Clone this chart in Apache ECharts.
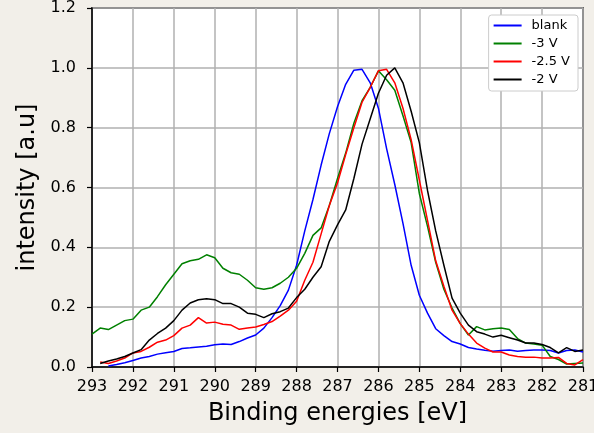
<!DOCTYPE html>
<html>
<head>
<meta charset="utf-8">
<script src="https://cdn.jsdelivr.net/npm/echarts@6/dist/echarts.min.js"></script>
<style>
html,body{margin:0;padding:0;background:#f2efe9;}
#c{width:594px;height:433px;}
</style>
</head>
<body>
<div id="c"></div>
<script>
// Binding energies (eV), 0.2 eV steps from 293 down to 281
const energies = [293.0,292.8,292.6,292.4,292.2,292.0,291.8,291.6,291.4,291.2,291.0,290.8,290.6,290.4,290.2,290.0,289.8,289.6,289.4,289.2,289.0,288.8,288.6,288.4,288.2,288.0,287.8,287.6,287.4,287.2,287.0,286.8,286.6,286.4,286.2,286.0,285.8,285.6,285.4,285.2,285.0,284.8,284.6,284.4,284.2,284.0,283.8,283.6,283.4,283.2,283.0,282.8,282.6,282.4,282.2,282.0,281.8,281.6,281.4,281.2,281.0];

const blank = [null,null,0.003,0.008,0.014,0.022,0.030,0.035,0.043,0.048,0.052,0.062,0.064,0.067,0.069,0.074,0.077,0.075,0.085,0.097,0.107,0.130,0.165,0.205,0.257,0.340,0.455,0.560,0.675,0.780,0.870,0.945,0.992,0.995,0.950,0.865,0.730,0.610,0.480,0.340,0.240,0.180,0.128,0.105,0.085,0.077,0.065,0.060,0.056,0.053,0.055,0.057,0.053,0.055,0.057,0.057,0.055,0.047,0.055,0.057,0.050];

const v3 = [0.110,0.130,0.125,0.140,0.155,0.160,0.190,0.200,0.235,0.275,0.310,0.345,0.355,0.360,0.375,0.365,0.330,0.315,0.310,0.290,0.265,0.260,0.265,0.280,0.300,0.330,0.380,0.440,0.465,0.540,0.630,0.715,0.815,0.890,0.935,0.990,0.960,0.925,0.840,0.750,0.580,0.470,0.350,0.260,0.197,0.145,0.107,0.135,0.124,0.128,0.130,0.125,0.095,0.080,0.077,0.073,0.035,0.025,0.010,0.012,0.013];

const v25 = [null,0.017,0.012,0.020,0.030,0.047,0.052,0.066,0.083,0.090,0.105,0.130,0.140,0.165,0.147,0.150,0.143,0.140,0.126,0.130,0.134,0.142,0.152,0.170,0.190,0.220,0.290,0.350,0.445,0.540,0.615,0.710,0.800,0.885,0.935,0.990,0.995,0.950,0.865,0.760,0.625,0.490,0.355,0.270,0.190,0.145,0.110,0.080,0.063,0.050,0.050,0.040,0.035,0.033,0.033,0.030,0.030,0.032,0.012,0.007,0.025];

const v2 = [null,0.012,0.020,0.027,0.035,0.047,0.058,0.090,0.112,0.130,0.155,0.190,0.214,0.225,0.228,0.225,0.212,0.212,0.200,0.180,0.176,0.165,0.178,0.185,0.197,0.232,0.260,0.300,0.335,0.420,0.475,0.525,0.630,0.745,0.830,0.915,0.975,1.000,0.950,0.855,0.750,0.590,0.455,0.340,0.230,0.180,0.140,0.118,0.110,0.100,0.106,0.098,0.090,0.080,0.080,0.075,0.065,0.047,0.065,0.052,0.057];

const seriesNames = ['blank','-3 V','-2.5 V','-2 V'];
const seriesValues = [blank, v3, v25, v2];
const seriesColors = ['#0000ff','#008000','#ff0000','#000000'];
const xTicks = [281,282,283,284,285,286,287,288,289,290,291,292,293];
const yTicks = [0,0.2,0.4,0.6,0.8,1.0,1.2];

function pairs(vals){
  const out = [];
  for (let i = 0; i < energies.length; i++) {
    if (vals[i] !== null) out.push([energies[i], vals[i]]);
  }
  return out;
}

const FONT = '"DejaVu Sans", sans-serif';
const chart = echarts.init(document.getElementById('c'), null, {renderer:'canvas'});
chart.setOption({
  backgroundColor: '#f2efe9',
  animation: false,
  grid: {left: 92, right: 11, top: 8, bottom: 66, containLabel: false, outerBoundsMode: 'none',
         show: true, backgroundColor: '#ffffff', borderColor: '#000000', borderWidth: 1.5},
  legend: {
    data: seriesNames,
    orient: 'vertical',
    right: 16, top: 15,
    backgroundColor: '#ffffff',
    borderColor: '#cccccc', borderWidth: 1, borderRadius: 3,
    padding: [4, 8, 5, 5],
    itemWidth: 28, itemHeight: 2, itemGap: 5,
    icon: 'rect',
    textStyle: {fontFamily: FONT, fontSize: 13, color: '#000', lineHeight: 13, padding: [0,0,0,5]}
  },
  xAxis: {
    type: 'value', min: xTicks[0], max: xTicks[xTicks.length-1], interval: 1, inverse: true,
    name: 'Binding energies [eV]', nameLocation: 'middle', nameGap: 35,
    nameTextStyle: {fontFamily: FONT, fontSize: 24, color: '#000'},
    axisLine: {show: true, lineStyle: {color: '#000', width: 1.5}},
    axisTick: {show: true, length: 5, lineStyle: {color: '#000', width: 1.2}},
    axisLabel: {fontFamily: FONT, fontSize: 16, color: '#000', margin: 12, hideOverlap: false, formatter: v => String(v)},
    splitLine: {show: true, lineStyle: {color: '#b0b0b0', width: 1.5}}
  },
  yAxis: {
    type: 'value', min: yTicks[0], max: yTicks[yTicks.length-1], interval: 0.2,
    name: 'intensity [a.u]', nameLocation: 'middle', nameGap: 51, nameRotate: 90,
    nameTextStyle: {fontFamily: FONT, fontSize: 24, color: '#000'},
    axisLine: {show: true, lineStyle: {color: '#000', width: 1.5}},
    axisTick: {show: true, length: 5, lineStyle: {color: '#000', width: 1.2}},
    axisLabel: {fontFamily: FONT, fontSize: 16, color: '#000', margin: 16, formatter: v => v.toFixed(1)},
    splitLine: {show: true, lineStyle: {color: '#b0b0b0', width: 1.5}}
  },
  series: seriesNames.map((n, i) => ({
    name: n, type: 'line', data: pairs(seriesValues[i]),
    showSymbol: false, symbol: 'none', color: seriesColors[i],
    lineStyle: {color: seriesColors[i], width: 1.5}, clip: true
  }))
});
</script>
</body>
</html>
